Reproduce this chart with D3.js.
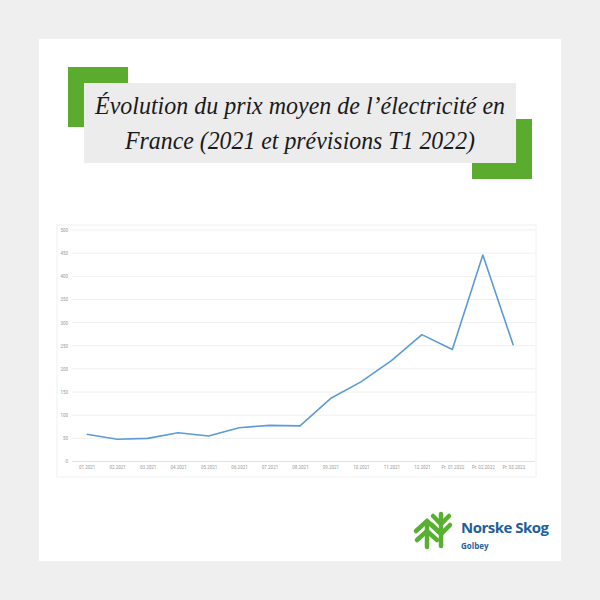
<!DOCTYPE html>
<html>
<head>
<meta charset="utf-8">
<script src="https://cdn.jsdelivr.net/npm/d3@7"></script>
<style>
  html, body { margin: 0; padding: 0; background: #efefef; }
  svg { display: block; }
</style>
</head>
<body>
<div class="chart"></div>
<script>
// données : prix moyen de l'électricité (€/MWh)
var months = ["01.2021", "02.2021", "03.2021", "04.2021", "05.2021", "06.2021", "07.2021",
              "08.2021", "09.2021", "10.2021", "11.2021", "12.2021",
              "Pr. 01.2022", "Pr. 02.2022", "Pr. 03.2022"];
var prices = [59, 48, 50, 62, 55, 73, 78, 77, 136, 172, 218, 274, 242, 446, 251];
var yTicks = [0, 50, 100, 150, 200, 250, 300, 350, 400, 450, 500];
var titleLines = ["Évolution du prix moyen de l’électricité en",
                  "France (2021 et prévisions T1 2022)"];
var titleWidths = [410, 350];

document.addEventListener("DOMContentLoaded", function(){
    var svg = d3.select(".chart").append("svg")
        .attr("width", 600).attr("height", 600);

    // fond gris + carte blanche
    svg.append("rect").attr("width", 600).attr("height", 600).attr("fill", "#efefef");
    svg.append("rect").attr("x", 39).attr("y", 39).attr("width", 522).attr("height", 522)
        .attr("fill", "#ffffff");

    // cadre du titre : carrés verts derrière le bandeau gris
    var green = "#5aab2e";
    svg.append("rect").attr("x", 68).attr("y", 67).attr("width", 60).attr("height", 60).attr("fill", green);
    svg.append("rect").attr("x", 472).attr("y", 119).attr("width", 60).attr("height", 60).attr("fill", green);
    svg.append("rect").attr("x", 84).attr("y", 83).attr("width", 432).attr("height", 80).attr("fill", "#ececec");

    svg.selectAll("text.title").data(titleLines).enter().append("text")
        .attr("class", "title")
        .attr("x", 300)
        .attr("y", function(d, i){ return 114 + i * 35; })
        .attr("text-anchor", "middle")
        .attr("textLength", function(d, i){ return titleWidths[i]; })
        .attr("lengthAdjust", "spacingAndGlyphs")
        .style("font-family", "'Times New Roman', 'Liberation Serif', Times, serif")
        .style("font-style", "italic")
        .style("font-size", "25px")
        .attr("fill", "#1a1a1a")
        .text(function(d){ return d; });

    // zone du graphique
    svg.append("rect").attr("x", 57).attr("y", 225).attr("width", 479).attr("height", 252)
        .attr("fill", "none").attr("stroke", "#f0f0f0").attr("stroke-width", 1);

    var x = d3.scalePoint().domain(months).range([86.7, 513.3]);
    var y = d3.scaleLinear().domain([0, 500]).range([461.5, 230]);

    //lignes de grille
    svg.selectAll("line.grid").data(yTicks).enter().append("line")
        .attr("class", "grid")
        .attr("x1", 72).attr("x2", 535)
        .attr("y1", function(d){ return y(d); })
        .attr("y2", function(d){ return y(d); })
        .attr("stroke", function(d){ return d === 0 ? "#e2e2e2" : "#efefef"; })
        .attr("stroke-width", 1);

    // axe Y
    var yAxis = svg.append("g").attr("transform", "translate(68,0)")
        .call(d3.axisLeft(y).tickValues(yTicks).tickSize(0).tickPadding(0));
    yAxis.select(".domain").remove();
    yAxis.selectAll("text")
        .style("font-family", "Roboto, sans-serif")
        .style("font-size", "4.5px")
        .attr("fill", "#9a9a9a");

    // axe X
    var xAxis = svg.append("g").attr("transform", "translate(0,466)")
        .call(d3.axisBottom(x).tickSize(0).tickPadding(0));
    xAxis.select(".domain").remove();
    xAxis.selectAll("text")
        .style("font-family", "Roboto, sans-serif")
        .style("font-size", "4.5px")
        .attr("fill", "#9a9a9a");

    // courbe
    var line = d3.line()
        .x(function(d, i){ return x(months[i]); })
        .y(function(d){ return y(d); });
    svg.append("path").datum(prices)
        .attr("d", line)
        .attr("fill", "none")
        .attr("stroke", "#5b9bd5")
        .attr("stroke-width", 1.6)
        .attr("stroke-linejoin", "round");

    // logo Norske Skog
    var logo = svg.append("g").attr("stroke", "#58b030").attr("stroke-width", 4.5)
        .attr("stroke-linecap", "round").attr("fill", "none");
    // arbre de droite (branches en V)
    logo.append("line").attr("x1", 441).attr("y1", 514).attr("x2", 441).attr("y2", 546);
    logo.append("path").attr("d", "M433,516 L441,524 L449,516");
    logo.append("path").attr("d", "M432,525 L441,534 L450,525");
    // arbre de gauche (branches en ^)
    logo.append("line").attr("x1", 427).attr("y1", 522).attr("x2", 427).attr("y2", 547);
    logo.append("path").attr("d", "M416,531 L427,521 L438,531");
    logo.append("path").attr("d", "M417,540 L427,531 L437,540");

    svg.append("text").attr("x", 461).attr("y", 533)
        .style("font-family", "'Open Sans', 'DejaVu Sans', sans-serif")
        .style("font-weight", "bold")
        .style("font-size", "15px")
        .attr("textLength", 88)
        .attr("fill", "#1f5f9c")
        .text("Norske Skog");
    svg.append("text").attr("x", 461).attr("y", 549)
        .style("font-family", "'Open Sans', 'DejaVu Sans', sans-serif")
        .style("font-weight", "bold")
        .style("font-size", "8px")
        .attr("fill", "#1f5f9c")
        .text("Golbey");
});
</script>
</body>
</html>
